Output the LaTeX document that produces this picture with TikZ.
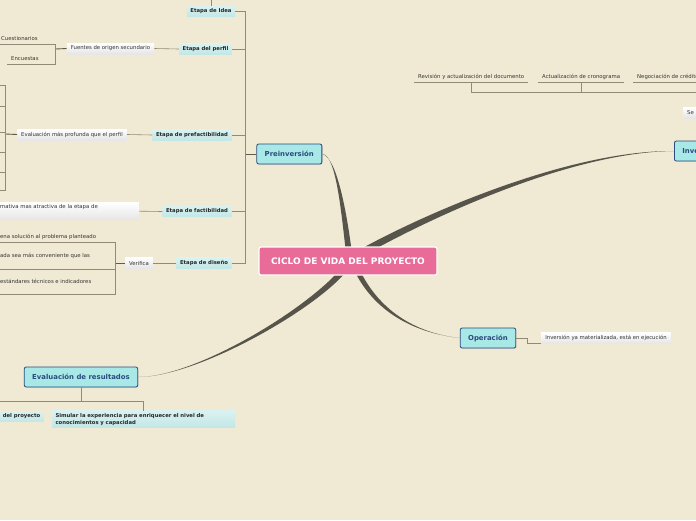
\documentclass[tikz,border=0pt]{standalone}
\usepackage{fontspec}
\setmainfont{DejaVu Sans}
\usetikzlibrary{calc,shadows,backgrounds}
\definecolor{fondo}{HTML}{F0E9D3}
\definecolor{tronco}{HTML}{57554B}
\definecolor{rama}{HTML}{908A76}
\definecolor{ramaosc}{HTML}{5F5B4E}
\definecolor{rosa}{HTML}{E86C97}
\definecolor{cian}{HTML}{A8E8E6}
\definecolor{azul}{HTML}{2B4C7E}
\definecolor{texto}{HTML}{333333}
\definecolor{ciantop}{HTML}{D9F2F1}
\definecolor{cianbot}{HTML}{C2E7E6}
\tikzset{
	raiz/.style={rounded corners=2pt,fill=rosa,draw=white,line width=1.2pt,text=white,
		font=\fontsize{9}{11}\selectfont\bfseries,minimum width=178pt,minimum height=28pt},
	fase/.style={rounded corners=2pt,fill=cian,draw=azul,line width=0.8pt,text=azul,
		font=\fontsize{6.9}{8}\selectfont\bfseries,inner xsep=8pt,minimum height=20pt,
		drop shadow={shadow xshift=0.8pt,shadow yshift=-0.8pt,fill=black!25}},
	etapa/.style={top color=ciantop,bottom color=cianbot,text=black!85,
		font=\fontsize{5.3}{6.6}\selectfont\bfseries,inner xsep=3.5pt,inner ysep=0pt,minimum height=10.5pt},
	nota/.style={top color=white,bottom color=black!10,text=texto,
		font=\fontsize{5.35}{6.4}\selectfont,inner xsep=4pt,inner ysep=0pt,minimum height=11pt},
	hoja/.style={text=texto,font=\fontsize{5.35}{6.4}\selectfont,inner xsep=4pt,inner ysep=1pt,
		text depth=2.4pt,anchor=base west},
	rama/.style={draw=rama,line width=0.6pt},
	tallo/.style={draw=ramaosc,line width=0.9pt}
}
\begin{document}
\begin{tikzpicture}[x=1pt,y=-1pt]
	\useasboundingbox (0,0) rectangle (696,520);

	% ramas principales
	\node [raiz] (cv) at (348,261) {CICLO DE VIDA DEL PROYECTO};
	\node [fase] (pre) at (289.3,154) {Preinversión};
	\node [fase,anchor=west] (inv) at (674,151) {Inversión};
	\node [fase] (op) at (488,338) {Operación};
	\node [fase] (ev) at (81,377) {Evaluación de resultados};

	% etapas de la preinversion
	\node [etapa] (idea) at (211,11.5) {Etapa de Idea};
	\node [etapa] (perf) at (205.5,49) {Etapa del perfil};
	\node [etapa] (pref) at (192,135) {Etapa de prefactibilidad};
	\node [etapa] (fact) at (197,211.5) {Etapa de factibilidad};
	\node [etapa] (dis) at (204,263) {Etapa de diseño};

	\node [nota] (fue) at (110.5,48.5) {Fuentes de origen secundario};
	\node [nota] (eva) at (72,134.5) {Evaluación más profunda que el perfil};
	\node [nota] (ver) at (139,263) {Verifica};
	\node [nota,anchor=base east,text width=135pt,align=left,text depth=9pt,inner ysep=2pt] (alt) at (139,208.7) {rnativa mas atractiva de la etapa de};

	\node [hoja] (cue) at (-3,40.8) {Cuestionarios};
	\node [hoja] (enc) at (7,60.8) {Encuestas};
	\node [hoja] (d1) at (-4,238.8) {ena solución al problema planteado};
	\node [hoja,text depth=10.2pt] (d2) at (-4,257.8) {ada sea más conveniente que las};
	\node [hoja,text depth=9.2pt] (d3) at (-4,283.8) {estándares técnicos e indicadores};

	% inversion
	\node [hoja] (rev) at (414,78.8) {Revisión y actualización del documento};
	\node [hoja] (act) at (538,78.8) {Actualización de cronograma};
	\node [hoja] (neg) at (633,78.8) {Negociación de créditos};
	\node [nota,anchor=west] (se) at (683,112.5) {Se};

	% operacion y evaluacion
	\node [nota] (inm) at (606,338) {Inversión ya materializada, está en ejecución};
	\node [etapa,anchor=east] (dpr) at (44,416.5) {del proyecto};
	\node [etapa,text width=176pt,align=left,inner ysep=2.5pt] (sim) at (143.5,419.3) {Simular la experiencia para enriquecer el nivel de\\conocimientos y capacidad};

	\begin{scope}[on background layer]
		\fill [fondo] (0,0) rectangle (696,520);
		\fill [tronco] (pre.east) .. controls +(14,1) and +(-6,-52) .. ($(cv.center)+(-1,1)$)
			-- ($(cv.center)+(5,1)$) .. controls +(-6,-52) and +(14,3) .. (pre.east) -- cycle;
		\fill [tronco] ($(cv.center)+(2.2,-6)$) .. controls +(60,-35) and +(-110,-1) .. (inv.west)
			.. controls +(-110,1) and +(60,-35) .. ($(cv.center)+(5.8,0)$) -- cycle;
		\fill [tronco] ($(cv.center)+(9.3,4)$) .. controls +(20,45) and +(-45,-5) .. (op.west)
			.. controls +(-45,-5) and +(20,45) .. ($(cv.center)+(4.7,6)$) -- cycle;
		\fill [tronco] ($(cv.center)+(1.4,6.8)$) .. controls +(-30,40) and +(60,0) .. (ev.east)
			.. controls +(60,0) and +(-30,40) .. ($(cv.center)+(-3.4,3.2)$) -- cycle;
	\end{scope}

	% conectores
	\coordinate (pj) at (245.5,154);
	\draw [tallo] (pre.west) -- (pj);
	\foreach \n in {idea,perf,pref,fact,dis}
		\draw [rama] (\n.east) -| (pj);
	\coordinate (ideaup) at (211,-5);
	\draw [rama] (idea.north) -- (ideaup);

	\draw [rama] (fue.east) -- (perf.west);
	\coordinate (fj) at (55.5,49);
	\draw [tallo] (fue.west) -- (fj);
	\foreach \n in {cue,enc}
		\draw [rama] (\n.south west) -- (\n.south east) -| (fj);

	\draw [rama] (eva.east) -- (pref.west);
	\coordinate (ej) at (5.5,134);
	\draw [tallo] (eva.west) -- (ej);
	\foreach \y [count=\i] in {85,106,132,152,172,190} {
		\coordinate (e\i) at (-10,\y);
		\draw [rama] (e\i) -| (ej);
	}

	\draw [rama] (alt.east) -- (fact.west);
	\draw [rama] (ver.east) -- (dis.west);
	\coordinate (dj) at (115.5,263);
	\draw [tallo] (ver.west) -- (dj);
	\foreach \n in {d1,d2,d3}
		\draw [rama] (\n.south west) -- (\n.south east) -| (dj);

	\coordinate (ir) at (705,92);
	\foreach \n in {rev,act} {
		\draw [rama] (\n.south west) -- (\n.south east);
		\draw [rama] (\n.south) |- (ir);
	}
	\draw [rama] (neg.south west) -- (neg.south east);

	\draw [rama] (op.east) -- ++(11,0) |- (inm.south west);

	\coordinate (evl) at (-10,401);
	\draw [rama] (ev.south) -- (ev.south |- evl);
	\draw [rama] (evl) -| (sim.north);
\end{tikzpicture}
\end{document}
